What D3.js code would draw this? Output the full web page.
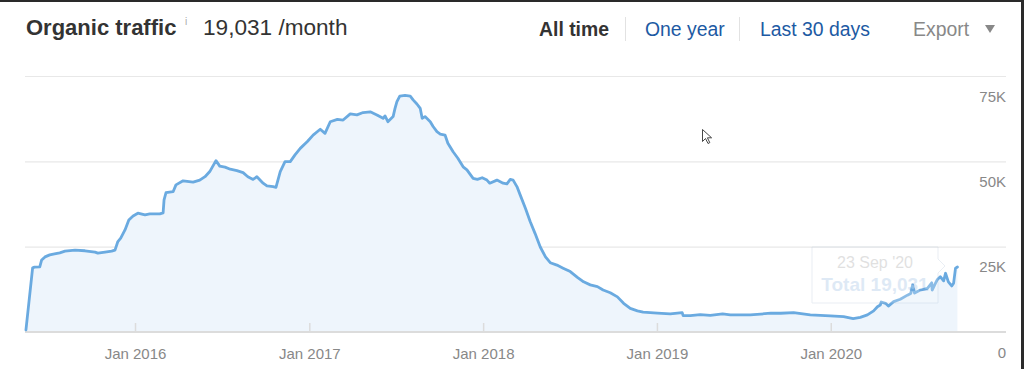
<!DOCTYPE html>
<html>
<head>
<meta charset="utf-8">
<script src="https://cdn.jsdelivr.net/npm/d3@7"></script>
<style>
  html, body { margin: 0; padding: 0; background: #fff; }
  svg { display: block; }
  text { font-family: "Liberation Sans", Arial, Helvetica, sans-serif; }
</style>
</head>
<body>
<svg id="chart" width="1024" height="369"></svg>
<script>
// ---- Data ----
const dates = [
  "2015-05-17","2015-05-31","2015-06-04","2015-06-15","2015-06-19","2015-06-26","2015-07-06","2015-07-16","2015-07-27",
  "2015-08-07","2015-08-28","2015-09-18","2015-10-09","2015-10-15","2015-10-30","2015-11-13","2015-11-20","2015-11-26",
  "2015-12-02","2015-12-11","2015-12-19","2015-12-28",
  "2016-01-07","2016-01-22","2016-02-01","2016-02-22","2016-02-29","2016-03-02","2016-03-06","2016-03-21","2016-03-27",
  "2016-04-11","2016-05-02","2016-05-16","2016-05-27","2016-06-06","2016-06-19","2016-06-27","2016-07-08","2016-07-19",
  "2016-08-02","2016-08-15","2016-08-25","2016-09-05","2016-09-13","2016-09-26","2016-10-04","2016-10-17","2016-10-23",
  "2016-11-01","2016-11-11","2016-11-22","2016-12-02","2016-12-13","2016-12-28",
  "2017-01-09","2017-01-24","2017-02-03","2017-02-14","2017-03-01","2017-03-13","2017-03-28","2017-04-11","2017-04-24",
  "2017-05-09","2017-05-23","2017-06-05","2017-06-09","2017-06-15","2017-06-26","2017-06-30","2017-07-04","2017-07-10",
  "2017-07-21","2017-08-01","2017-08-07","2017-08-15","2017-08-22","2017-08-26","2017-09-01","2017-09-12","2017-09-18",
  "2017-09-26","2017-10-03","2017-10-13","2017-10-19","2017-10-30","2017-11-09","2017-11-20","2017-11-28","2017-12-11",
  "2017-12-20","2017-12-30",
  "2018-01-09","2018-01-15","2018-01-30","2018-02-12","2018-02-20","2018-02-27","2018-03-05","2018-03-13","2018-03-20",
  "2018-03-31","2018-04-10","2018-04-20","2018-05-01","2018-05-12","2018-05-22","2018-06-05","2018-06-18","2018-07-03",
  "2018-07-18","2018-07-31","2018-08-14","2018-08-29","2018-09-10","2018-09-25","2018-10-10","2018-10-23","2018-11-06",
  "2018-11-21","2018-12-03",
  "2019-01-02","2019-01-29","2019-02-23","2019-02-25","2019-03-12","2019-04-02","2019-04-23","2019-05-19","2019-06-04",
  "2019-07-16","2019-08-28","2019-09-18","2019-10-15","2019-11-19","2019-12-31",
  "2020-01-28","2020-02-17","2020-03-03","2020-03-18","2020-03-31","2020-04-08","2020-04-14","2020-04-16","2020-04-25",
  "2020-05-01","2020-05-12","2020-05-26","2020-06-10","2020-06-17","2020-06-21","2020-06-25","2020-07-07","2020-07-22",
  "2020-07-31","2020-08-01","2020-08-08","2020-08-12","2020-08-18","2020-08-25","2020-08-29","2020-09-04","2020-09-11",
  "2020-09-15","2020-09-19","2020-09-23"
];
const traffic = [
  600,18800,19000,19100,21100,22000,22600,22900,23200,
  23700,24000,23800,23400,23100,23400,23700,24000,26500,
  27500,29900,32800,34000,
  34800,34300,34600,34600,34900,38700,40800,41100,43100,
  44300,43900,44500,45500,47000,50200,48600,48300,47700,
  47300,46700,45500,44700,45500,43600,42800,42600,42400,
  47000,49900,49900,51900,53800,55800,
  57700,59400,58200,61600,62300,62100,63900,63600,64300,
  64500,63600,62600,63300,61600,63100,65500,67500,69100,
  69300,69100,68000,66800,65500,62600,63100,61600,60200,
  58700,58000,57700,55300,52800,50900,48400,47500,45000,
  44700,45200,
  44500,43600,44500,43600,43400,44700,44500,42600,40100,
  36200,32300,28900,24900,22000,20300,19600,18700,17700,
  16000,14700,13800,13300,12300,11500,10300,8400,6900,
  6200,5800,
  5500,5300,5700,4800,4800,5100,4900,5300,5000,
  5000,5500,5500,5700,5000,4700,
  4500,3900,4300,5000,6200,7400,7900,8800,8400,
  7600,8900,9600,10800,11300,13800,11400,12300,12800,
  14400,12300,14300,15400,16200,15000,17200,14700,13500,
  14300,18700,19031
];
const yTickValues = [0, 25000, 50000, 75000];
const yTickLabels = ["0", "25K", "50K", "75K"];
const xTickDates = ["2016-01-01", "2017-01-01", "2018-01-01", "2019-01-01", "2020-01-01"];
const xTickLabels = ["Jan 2016", "Jan 2017", "Jan 2018", "Jan 2019", "Jan 2020"];
const titleText = "Organic traffic";
const totalText = "19,031 /month";
const rangeTabs = ["All time", "One year", "Last 30 days"];
const tooltipDate = "23 Sep '20";
const tooltipTotal = "Total 19,031";

// ---- Build ----
const parse = d3.utcParse("%Y-%m-%d");
const data = dates.map((d, i) => ({ date: parse(d), value: traffic[i] }));

const svg = d3.select("#chart");
const W = 1024, H = 369;

const x = d3.scaleUtc()
  .domain([parse("2015-05-15"), parse("2021-01-03")])
  .range([25, 1006]);
const y = d3.scaleLinear().domain([0, 75000]).range([332, 76]);

// gridlines
svg.append("g").selectAll("line").data(yTickValues.filter(v => v > 0)).join("line")
  .attr("x1", 25).attr("x2", 1006)
  .attr("y1", d => y(d) + 0.5).attr("y2", d => y(d) + 0.5)
  .attr("stroke", "#e8e8e8").attr("stroke-width", 1.2);

// area
const area = d3.area().x(d => x(d.date)).y0(y(0)).y1(d => y(d.value)).curve(d3.curveLinear);
svg.append("path").datum(data).attr("d", area).attr("fill", "#eef5fc");

// baseline + x axis
const xAxis = d3.axisBottom(x)
  .tickValues(xTickDates.map(parse))
  .tickFormat((d, i) => xTickLabels[i])
  .tickSize(-9).tickPadding(16);
const gx = svg.append("g").attr("transform", `translate(0,${y(0)})`).call(xAxis);
gx.select(".domain").remove();
gx.selectAll(".tick line").attr("stroke", "#dcdcdc").attr("stroke-width", 1.5);
gx.selectAll(".tick text").attr("fill", "#888").attr("font-size", 15)
  .attr("font-family", "'Liberation Sans', Arial, sans-serif");
svg.append("line").attr("x1", 25).attr("x2", 1006).attr("y1", y(0)).attr("y2", y(0))
  .attr("stroke", "#dcdcdc").attr("stroke-width", 2);

// y axis labels (right side, beneath each gridline)
const yAxis = d3.axisRight(y).tickValues(yTickValues)
  .tickFormat((d, i) => yTickLabels[i]).tickSize(0).tickPadding(0);
const gy = svg.append("g").attr("transform", "translate(1006,0)").call(yAxis);
gy.select(".domain").remove();
gy.selectAll(".tick text").attr("fill", "#888").attr("font-size", 15)
  .attr("text-anchor", "end").attr("dy", 25)
  .attr("font-family", "'Liberation Sans', Arial, sans-serif");

// line
const line = d3.line().x(d => x(d.date)).y(d => y(d.value)).curve(d3.curveLinear);
svg.append("path").datum(data).attr("d", line)
  .attr("fill", "none").attr("stroke", "#6aaae0").attr("stroke-width", 2.8)
  .attr("stroke-linejoin", "round").attr("stroke-linecap", "round");

// faded tooltip
const tip = svg.append("g").attr("opacity", 0.22);
const tx0 = 812, ty0 = 247, tw = 126, th = 56;
tip.append("path")
  .attr("d", `M${tx0},${ty0} h${tw} v12 l7,7 l-7,7 V${ty0 + th} H${tx0} Z`)
  .attr("fill", "#fff").attr("stroke", "#9fb7cf").attr("stroke-width", 1);
tip.append("text").attr("x", tx0 + tw / 2).attr("y", 268).attr("text-anchor", "middle")
  .attr("font-size", 16).attr("fill", "#777").text(tooltipDate);
tip.append("text").attr("x", tx0 + tw / 2).attr("y", 291).attr("text-anchor", "middle")
  .attr("font-size", 19).attr("font-weight", "bold").attr("fill", "#6b9fd6").text(tooltipTotal);

// header
svg.append("text").attr("x", 26).attr("y", 35).attr("font-size", 22).attr("font-weight", "bold")
  .attr("fill", "#333").text(titleText);
svg.append("text").attr("x", 185).attr("y", 25).attr("font-size", 10).attr("fill", "#aaa").text("i");
svg.append("text").attr("x", 203).attr("y", 35).attr("font-size", 22.6)
  .attr("fill", "#333").text(totalText);

const tabX = [539, 645, 760];
const tabColor = ["#333", "#1d5aa3", "#1d5aa3"];
rangeTabs.forEach((t, i) => {
  svg.append("text").attr("x", tabX[i]).attr("y", 36).attr("font-size", 19.4)
    .attr("font-weight", i === 0 ? "bold" : "normal").attr("fill", tabColor[i]).text(t);
});
[625, 739].forEach(sx => {
  svg.append("line").attr("x1", sx + 0.5).attr("x2", sx + 0.5).attr("y1", 17).attr("y2", 41)
    .attr("stroke", "#e2e2e2").attr("stroke-width", 1);
});
svg.append("text").attr("x", 913).attr("y", 36).attr("font-size", 19.4).attr("fill", "#888").text("Export");
svg.append("path").attr("d", "M985,25 h10 l-5,8 Z").attr("fill", "#888");

// mouse cursor from screenshot
svg.append("path")
  .attr("d", "M702.5,129.5 v12 l3,-3 l2.5,5 l1.8,-0.9 l-2.4,-4.8 h4.2 Z")
  .attr("fill", "#fff").attr("stroke", "#333").attr("stroke-width", 0.9);

// screenshot frame edges
svg.append("rect").attr("x", 0).attr("y", 0).attr("width", W).attr("height", 2).attr("fill", "#2a2a2a");
svg.append("rect").attr("x", 1021).attr("y", 0).attr("width", 3).attr("height", H).attr("fill", "#2a2a2a");
</script>
</body>
</html>
